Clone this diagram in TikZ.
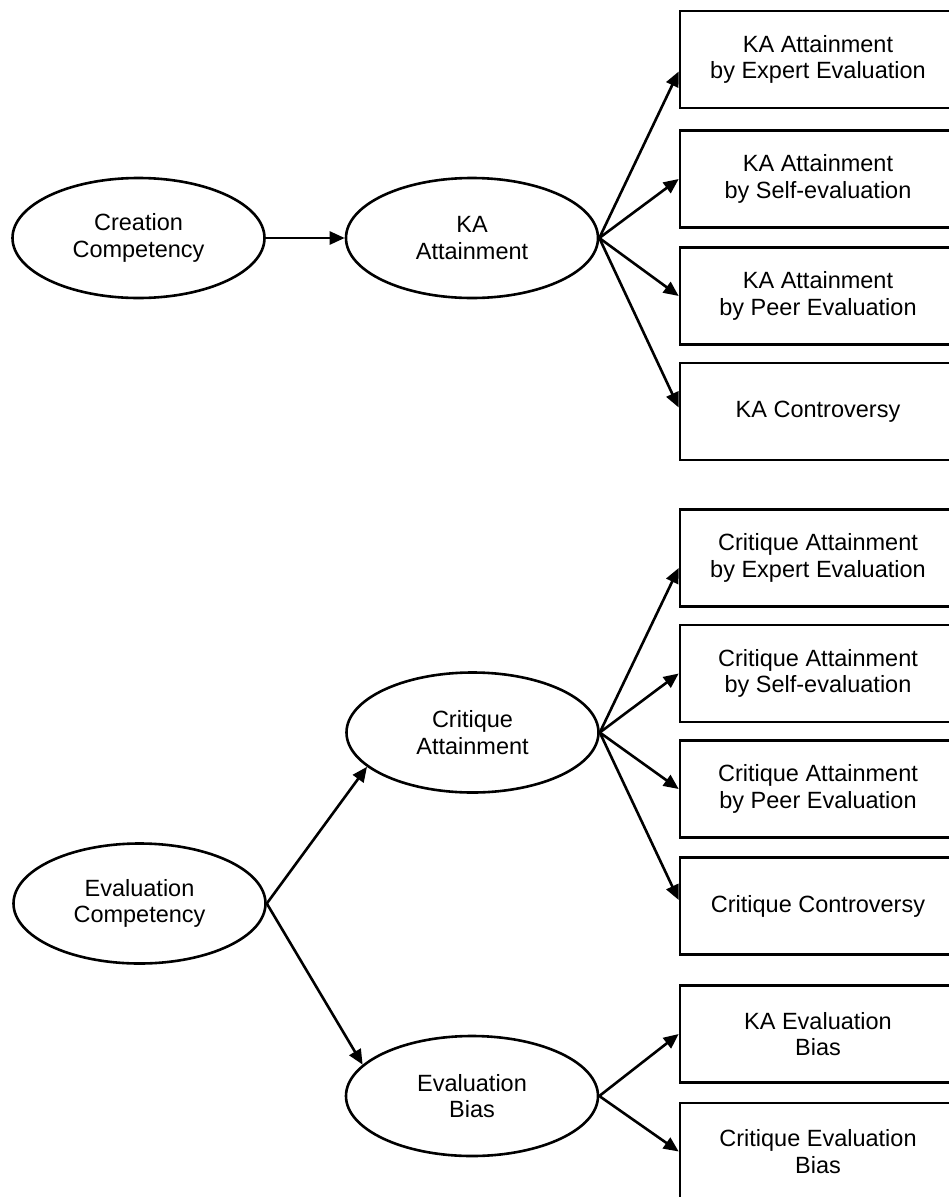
\documentclass[tikz,border=0pt]{standalone}
\usepackage{fontspec}
\setmainfont{Liberation Sans}
\usetikzlibrary{arrows.meta,shapes.geometric}

\begin{document}
\begin{tikzpicture}[x=1pt,y=-1pt,
  latent/.style={ellipse,draw,line width=2.6pt,minimum width=252pt,minimum height=120pt,
    inner sep=0pt,align=center,font=\fontsize{23.5}{26.5}\selectfont},
  indicator/.style={rectangle,draw,line width=2.6pt,minimum width=276pt,minimum height=97pt,
    inner sep=0pt,align=center,font=\fontsize{23.5}{26.5}\selectfont},
  link/.style={line width=2.6pt,-{Triangle[length=15pt,width=13pt]}}]
\useasboundingbox (0,0) rectangle (949,1197);

% latent constructs
\node[latent] (cc) at (138.5,238) {Creation\\Competency};
\node[latent] (ka) at (472,238) {KA\\Attainment};
\node[latent] (ec) at (139.5,903.5) {Evaluation\\Competency};
\node[latent] (ca) at (472.5,732.5) {Critique\\Attainment};
\node[latent] (eb) at (472,1096) {Evaluation\\Bias};

% observed indicators
\node[indicator] (b1) at (818,59.5) {KA Attainment\\by Expert Evaluation};
\node[indicator] (b2) at (818,179) {KA Attainment\\by Self-evaluation};
\node[indicator] (b3) at (818,296) {KA Attainment\\by Peer Evaluation};
\node[indicator] (b4) at (818,411.5) {KA Controversy};
\node[indicator] (b5) at (818,558) {Critique Attainment\\by Expert Evaluation};
\node[indicator] (b6) at (818,673.5) {Critique Attainment\\by Self-evaluation};
\node[indicator] (b7) at (818,789) {Critique Attainment\\by Peer Evaluation};
\node[indicator] (b8) at (818,906) {Critique Controversy};
\node[indicator] (b9) at (818,1034) {KA Evaluation\\Bias};
\node[indicator] (b10) at (818,1151.5) {Critique Evaluation\\Bias};

% paths
\draw[link] (cc.east) -- (ka.west);
\draw[link] (ka.east) -- ([yshift=-12pt]b1.west);
\draw[link] (ka.east) -- (b2.west);
\draw[link] (ka.east) -- (b3.west);
\draw[link] (ka.east) -- ([yshift=4pt]b4.west);

\draw[link] (ec.east) -- (ca.198.6);
\draw[link] (ec.east) -- (eb.164);

\draw[link] (ca.east) -- ([yshift=-10pt]b5.west);
\draw[link] (ca.east) -- (b6.west);
\draw[link] (ca.east) -- (b7.west);
\draw[link] (ca.east) -- ([yshift=6pt]b8.west);

\draw[link] (eb.east) -- (b9.west);
\draw[link] (eb.east) -- (b10.west);
\end{tikzpicture}
\end{document}
